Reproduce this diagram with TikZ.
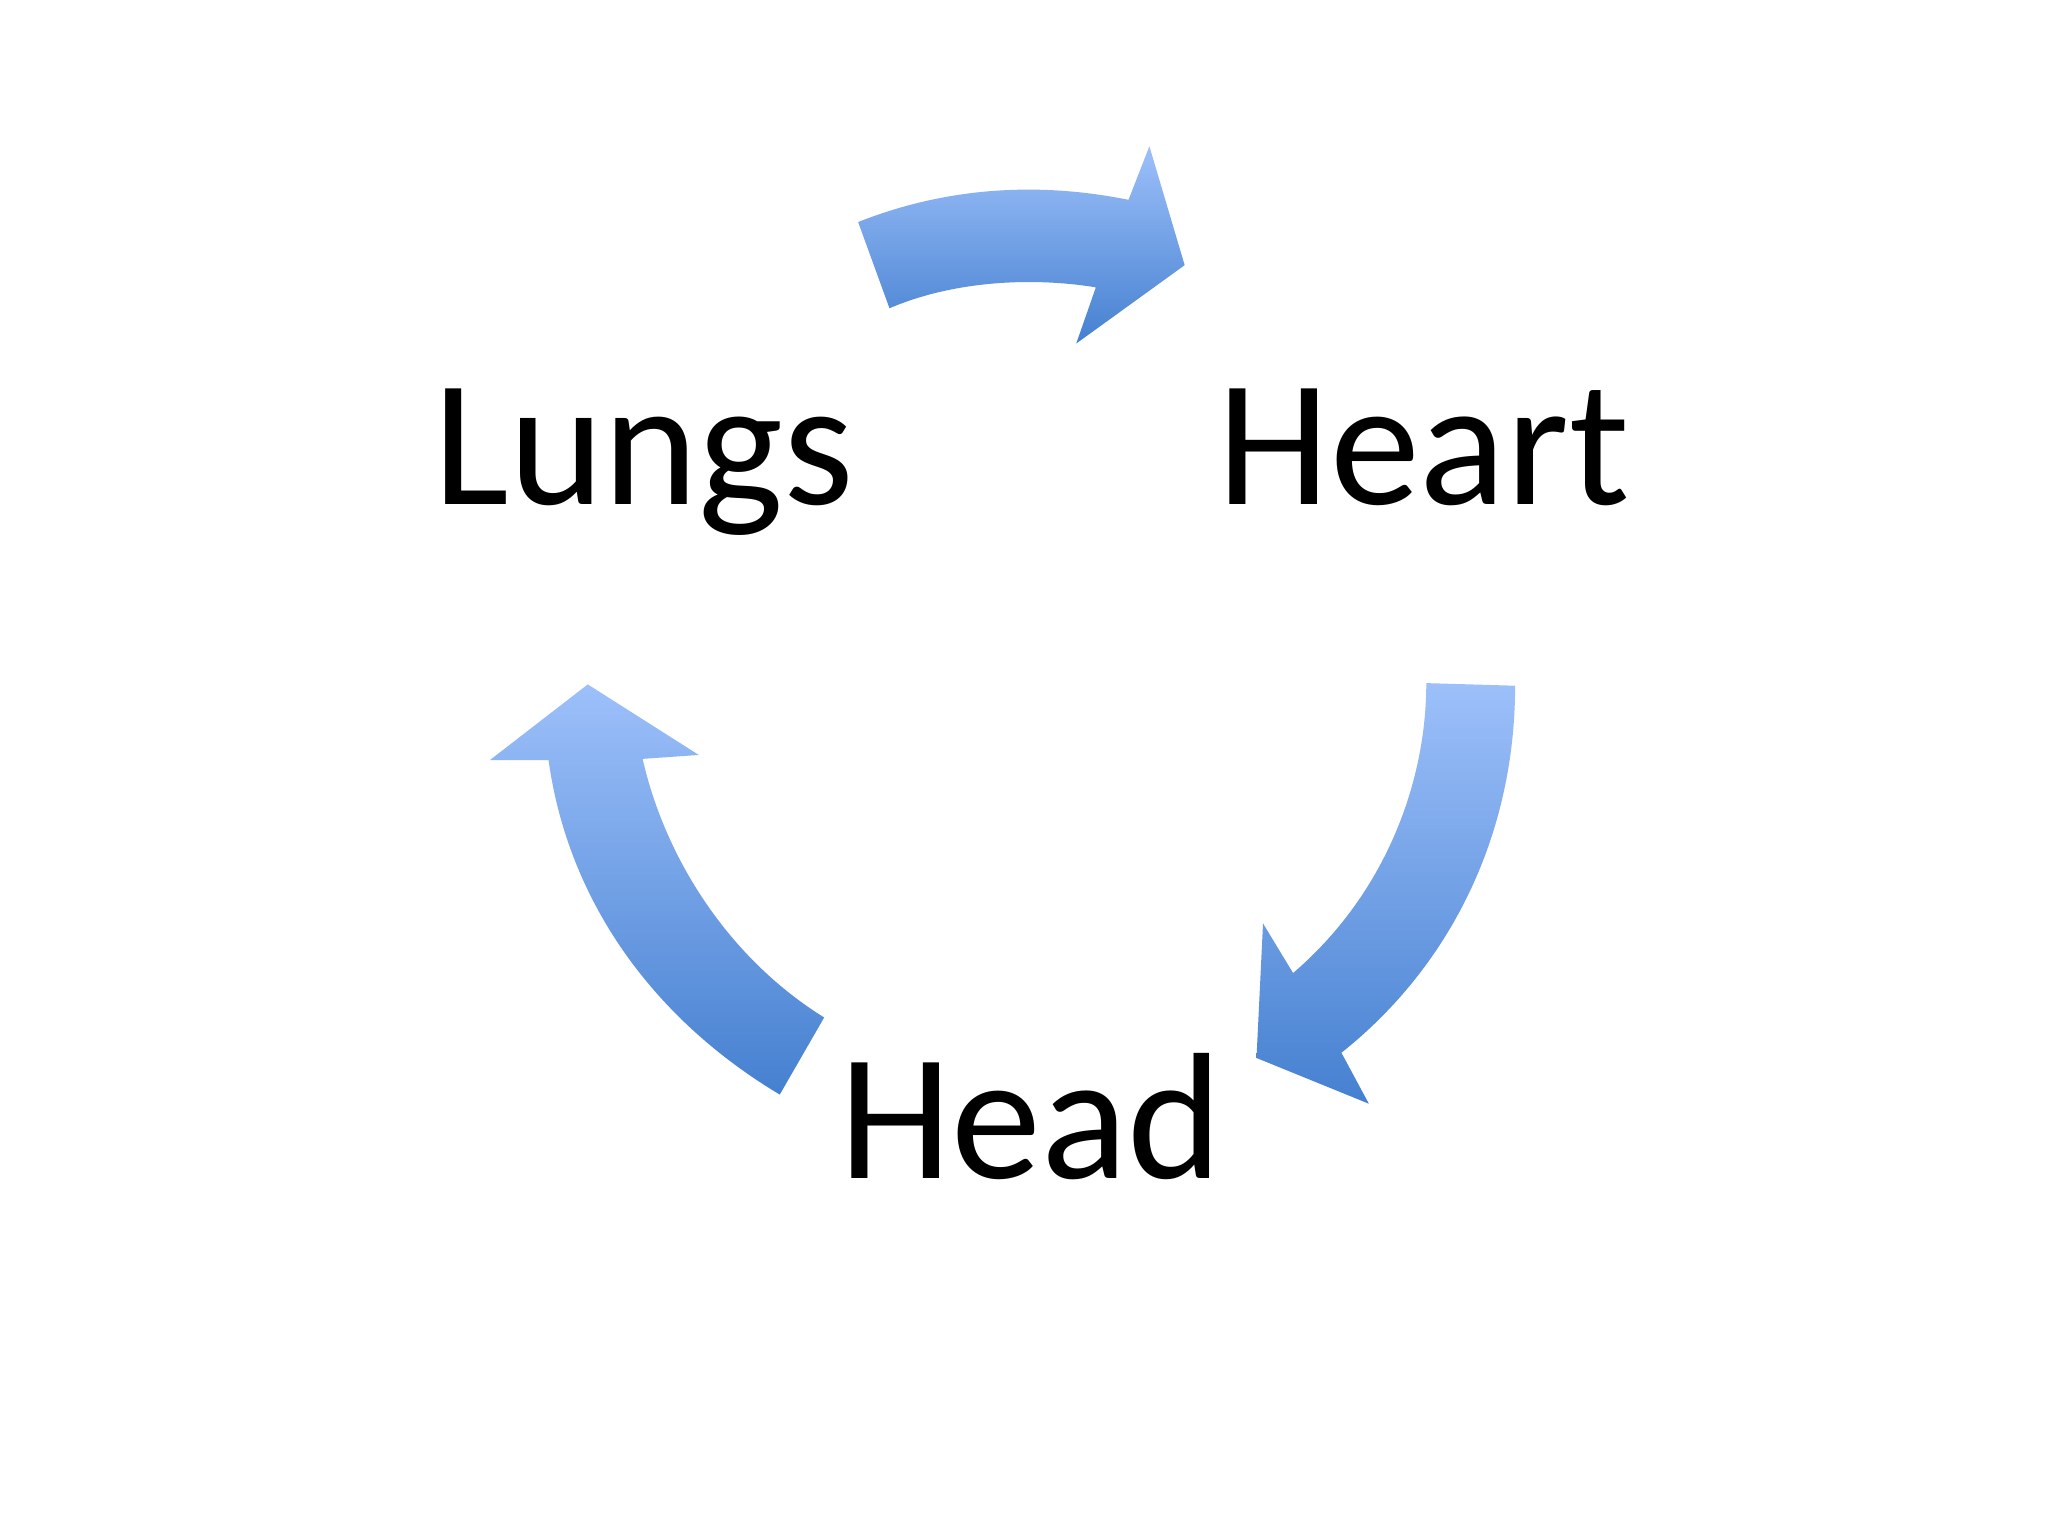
\documentclass[tikz,border=0pt]{standalone}
\usepackage{fontspec}
\setmainfont{Carlito}
\begin{document}
\begin{tikzpicture}[x=1pt,y=-1pt,
  arr/.style={top color=arrlight,bottom color=arrdark,draw=none},
  lbl/.style={font=\fontsize{138}{150}\selectfont,inner sep=0pt,anchor=base}]
\definecolor{arrlight}{HTML}{9DC0FA}
\definecolor{arrdark}{HTML}{4580D0}
\useasboundingbox[fill=white] (0,0) rectangle (1568,1176);
\shade[arr] (657,170) .. controls (720,145) and (790,138) .. (864,153) -- (880,112) -- (907,203) -- (824,263) -- (839,220) .. controls (790,212) and (730,215) .. (681,236) -- cycle;
\shade[arr] (1092,523) -- (1160,525) .. controls (1160,640) and (1110,740) .. (1027,806) -- (1048,845) -- (962,810) -- (967,707) -- (990,745) .. controls (1060,685) and (1092,600) .. cycle;
\shade[arr] (450,524) -- (535,578) -- (492,581) .. controls (510,660) and (560,735) .. (631,779) -- (597,838) .. controls (500,780) and (435,690) .. (420,582) -- (375,582) -- cycle;
\node[lbl] (lungs) at (493,386) {Lungs};
\node[lbl] (heart) at (1090,386) {Heart};
\node[lbl] (head) at (789,902) {Head};
\end{tikzpicture}
\end{document}
